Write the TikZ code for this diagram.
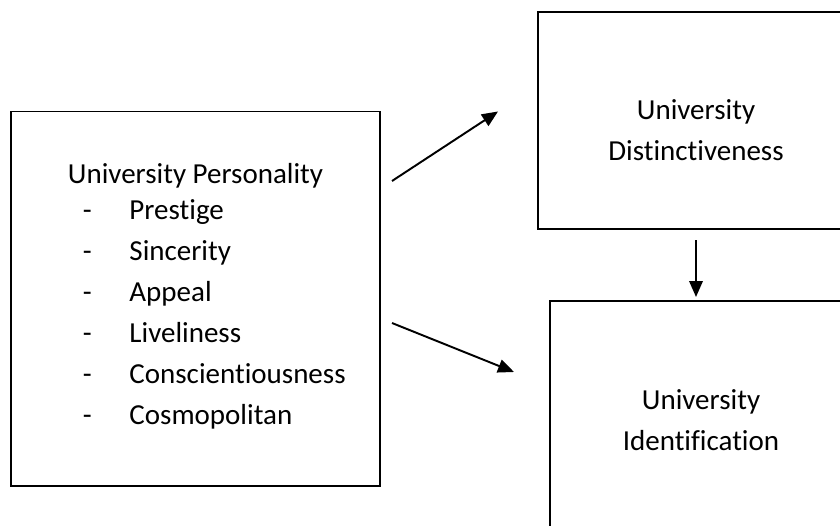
\documentclass[tikz,border=0pt]{standalone}
\usepackage{fontspec}
\setmainfont{Carlito}[Ligatures={NoCommon,NoRequired,NoContextual}]
\usepackage{array}
\usetikzlibrary{positioning, calc, arrows.meta}

\begin{document}
\begin{tikzpicture}[line width=1.1pt,
    box/.style={draw, rectangle, inner sep=0pt},
    boxtext/.style={align=center, inner sep=0pt, font=\fontsize{16.5}{23.3}\selectfont},
    link/.style={-{Triangle[length=0.32cm, width=0.27cm]}}]

    % Page frame (boxes on the right run off the edge)
    \useasboundingbox (0,0) rectangle (16.8,10.5);
    \clip (0,0) rectangle (16.8,10.5);

    % Left box: personality and its dimensions
    \node[box, minimum width=7.38cm, minimum height=7.49cm] (pers) at (3.91,4.525) {};
    \node[boxtext, anchor=base west, align=left] (perslist) at (1.34,6.84)
        {\begin{tabular}[t]{@{\hspace{0.3cm}}p{0.93cm}@{}l@{}}
            \multicolumn{2}{@{}l@{}}{University Personality}\\[-0.08cm]
            - & Prestige\\
            - & Sincerity\\
            - & Appeal\\
            - & Liveliness\\
            - & Conscientiousness\\
            - & Cosmopolitan
         \end{tabular}};

    % Top right box
    \node[box, minimum width=6.32cm, minimum height=4.34cm] (dist) at (13.92,8.09) {};
    \node[boxtext] (distlabel) at (13.92,7.9) {University\\Distinctiveness};

    % Bottom right box
    \node[box, minimum width=6.04cm, minimum height=4.76cm] (ident) at (14.02,2.10) {};
    \node[boxtext] (identlabel) at (14.02,2.1) {University\\Identification};

    % Arrow end points
    \coordinate (a1) at (7.84,6.88);
    \coordinate (b1) at (9.96,8.27);
    \coordinate (a2) at (7.84,4.04);
    \coordinate (b2) at (10.28,3.06);
    \coordinate (a3) at (13.92,5.70);
    \coordinate (b3) at (13.92,4.56);

    % Arrows
    \draw[link] (a1) -- (b1);
    \draw[link] (a2) -- (b2);
    \draw[link] (a3) -- (b3);

\end{tikzpicture}
\end{document}
